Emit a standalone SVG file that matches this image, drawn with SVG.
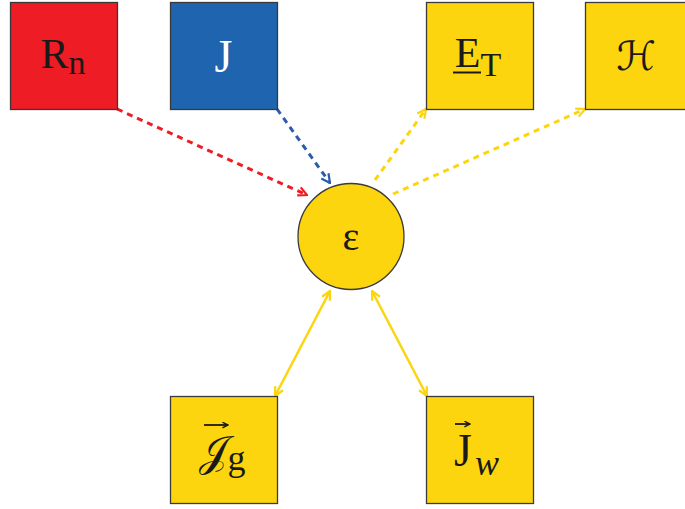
<svg xmlns="http://www.w3.org/2000/svg" width="685" height="509" viewBox="0 0 685 509">
<style>
.box{stroke:#3a3a3a;stroke-width:1.3}
.y{fill:#FCD50F}
.t{font-family:"Liberation Serif","DejaVu Serif",serif;fill:#1a1a1a;text-anchor:middle}
.dash{fill:none;stroke-width:3;stroke-dasharray:6 5}
.solid{fill:none;stroke:#FCD50F;stroke-width:2.5}
.vec{stroke:#1a1a1a;stroke-width:1.8;fill:none}
</style>
<defs>
<marker id="ar-red" viewBox="0 0 10 10" refX="9" refY="5" markerWidth="11" markerHeight="11" markerUnits="userSpaceOnUse" orient="auto"><path d="M1,1 L9,5 L1,9" fill="none" stroke="#EE1C25" stroke-width="2"/></marker>
<marker id="ar-blue" viewBox="0 0 10 10" refX="9" refY="5" markerWidth="11" markerHeight="11" markerUnits="userSpaceOnUse" orient="auto"><path d="M1,1 L9,5 L1,9" fill="none" stroke="#2A5CAA" stroke-width="2"/></marker>
<marker id="ar-y" viewBox="0 0 10 10" refX="9" refY="5" markerWidth="11" markerHeight="11" markerUnits="userSpaceOnUse" orient="auto-start-reverse"><path d="M1,1 L9,5 L1,9" fill="none" stroke="#FCD50F" stroke-width="2"/></marker>
<marker id="ar-k" viewBox="0 0 10 10" refX="9" refY="5" markerWidth="7" markerHeight="7" markerUnits="userSpaceOnUse" orient="auto"><path d="M1,1 L9,5 L1,9" fill="none" stroke="#1a1a1a" stroke-width="2"/></marker>
</defs>
<g id="connectors">
<line class="dash" stroke="#EE1C25" x1="117" y1="109" x2="307" y2="195" marker-end="url(#ar-red)"/>
<line class="dash" stroke="#2A5CAA" x1="277" y1="109" x2="330" y2="183" marker-end="url(#ar-blue)"/>
<line class="dash" stroke="#FCD50F" x1="375" y1="180" x2="426" y2="109" marker-end="url(#ar-y)"/>
<line class="dash" stroke="#FCD50F" x1="393" y1="194" x2="585" y2="109" marker-end="url(#ar-y)"/>
<line class="solid" x1="330" y1="291" x2="275" y2="396" marker-start="url(#ar-y)" marker-end="url(#ar-y)"/>
<line class="solid" x1="372" y1="291" x2="427" y2="396" marker-start="url(#ar-y)" marker-end="url(#ar-y)"/>
</g>
<g id="node-Rn">
<rect class="box" x="10.5" y="2.5" width="107" height="107" fill="#EE1C25"/>
<text class="t" x="63" y="68" font-size="42">R<tspan font-size="34" dy="6">n</tspan></text>
</g>
<g id="node-J">
<rect class="box" x="170.5" y="2.5" width="107" height="107" fill="#1F64AE"/>
<text class="t" x="223.5" y="72" font-size="46" style="fill:#fff">J</text>
</g>
<g id="node-ET">
<rect class="box y" x="426.5" y="2.5" width="107" height="107"/>
<text class="t" x="478" y="67" font-size="42">E<tspan font-size="34" dy="9">T</tspan></text>
<line x1="453" y1="72.5" x2="481" y2="72.5" stroke="#1a1a1a" stroke-width="2"/>
</g>
<g id="node-H">
<rect class="box y" x="585.5" y="2.5" width="107" height="107"/>
<text class="t" x="636" y="70" font-size="40" style="font-family:'DejaVu Serif','DejaVu Sans',serif">ℋ</text>
</g>
<g id="node-eps">
<circle cx="351" cy="236.5" r="53" class="box y"/>
<text class="t" x="351" y="250" font-size="40">ε</text>
</g>
<g id="node-Jg">
<rect class="box y" x="170.5" y="396.5" width="107" height="107"/>
<text class="t" x="222" y="466" font-size="42"><tspan style="font-family:'DejaVu Serif',serif">𝒥</tspan><tspan font-size="36" dy="4">g</tspan></text>
<line class="vec" x1="204" y1="425" x2="228" y2="425" marker-end="url(#ar-k)"/>
</g>
<g id="node-Jw">
<rect class="box y" x="426.5" y="396.5" width="107" height="107"/>
<text class="t" x="463" y="466" font-size="46">J</text>
<text class="t" x="487" y="475" font-size="36" font-style="italic">w</text>
<line class="vec" x1="455" y1="424" x2="470" y2="424" marker-end="url(#ar-k)"/>
</g>
</svg>
